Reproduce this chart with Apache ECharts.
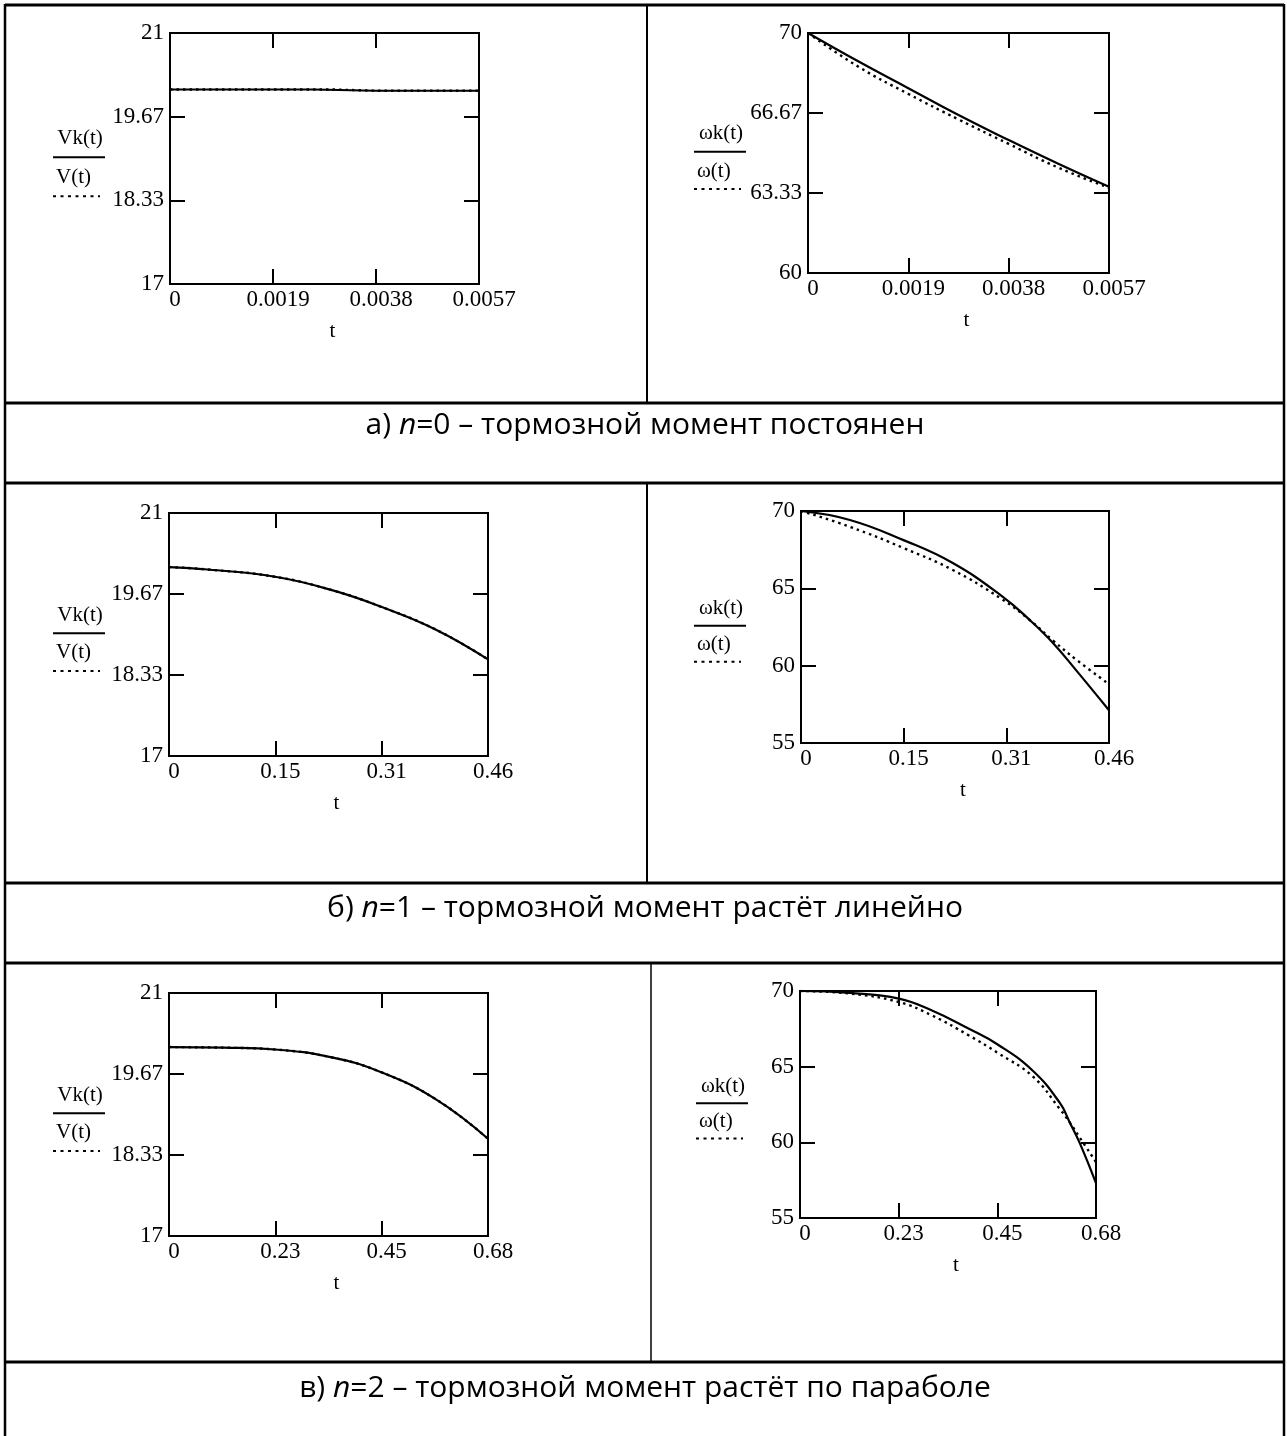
<!DOCTYPE html>
<html>
<head>
<meta charset="utf-8">
<script src="https://cdn.jsdelivr.net/npm/echarts@6/dist/echarts.min.js"></script>
<style>
html, body { margin: 0; padding: 0; background: #fff; }
#main { width: 1287px; height: 1436px; }
</style>
</head>
<body>
<div id="main"></div>
<script>
"use strict";

// а) n=0
const t_vk0 = [0, 0.0019, 0.00265, 0.00266, 0.0038, 0.0057];
const vk_0  = [20.1, 20.1, 20.1, 20.08, 20.08, 20.08];
const t_v0  = [0, 0.0019, 0.0030, 0.00301, 0.0038, 0.0057];
const v_0   = [20.1, 20.1, 20.1, 20.08, 20.08, 20.08];
const t_w0  = [0, 0.00095, 0.0019, 0.00285, 0.0038, 0.00475, 0.0057];
const wk_0  = [70, 68.82, 67.70, 66.58, 65.54, 64.54, 63.59];
const w_0   = [70, 68.60, 67.46, 66.40, 65.38, 64.38, 63.55];

// б) n=1
const t_v1  = [0, 0.056, 0.153, 0.235, 0.305, 0.385, 0.46];
const vk_1  = [20.11, 20.07, 19.95, 19.73, 19.46, 19.08, 18.59];
const v_1   = [20.11, 20.07, 19.95, 19.73, 19.46, 19.08, 18.59];
const t_w1  = [0, 0.073, 0.154, 0.226, 0.30, 0.342, 0.377, 0.412, 0.46];
const wk_1  = [70, 69.42, 68.1, 66.65, 64.5, 62.94, 61.44, 59.65, 57.12];
const w_1   = [70, 68.98, 67.59, 66.2, 64.3, 62.94, 61.6, 60.36, 58.8];

// в) n=2
const t_v2  = [0, 0.117, 0.226, 0.347, 0.451, 0.569, 0.68];
const vk_2  = [20.11, 20.10, 20.07, 19.94, 19.70, 19.25, 18.60];
const v_2   = [20.11, 20.10, 20.07, 19.94, 19.70, 19.25, 18.60];
const t_w2  = [0, 0.114, 0.227, 0.302, 0.387, 0.455, 0.536, 0.597, 0.62, 0.643, 0.68];
const wk_2  = [70, 69.87, 69.50, 68.73, 67.52, 66.45, 64.7, 62.6, 61.3, 59.93, 57.3];
const w_2   = [70, 69.83, 69.27, 68.40, 67.08, 65.9, 64.32, 62.2, 61.3, 60.3, 58.7];

// tick labels
const x_ticks0 = ['0', '0.0019', '0.0038', '0.0057'];
const x_ticks1 = ['0', '0.15', '0.31', '0.46'];
const x_ticks2 = ['0', '0.23', '0.45', '0.68'];
const v_ticks  = ['17', '18.33', '19.67', '21'];
const w_ticks0 = ['60', '63.33', '66.67', '70'];
const w_ticks  = ['55', '60', '65', '70'];

const captions = [
    ['а) ', 'n', '=0 – тормозной момент постоянен'],
    ['б) ', 'n', '=1 – тормозной момент растёт линейно'],
    ['в) ', 'n', '=2 – тормозной момент растёт по параболе']
];

const serif = 'Liberation Serif';

const panels = [
    { box: [170, 33, 309, 251], xt: x_ticks0, yt: v_ticks, names: ['Vk(t)', 'V(t)'], lx: 53,
      solid: [t_vk0, vk_0], dot: [t_v0, v_0], smooth: false },
    { box: [808, 33, 301, 240], xt: x_ticks0, yt: w_ticks0, names: ['ωk(t)', 'ω(t)'], lx: 694,
      solid: [t_w0, wk_0], dot: [t_w0, w_0], smooth: 0.45 },
    { box: [169, 513, 319, 243], xt: x_ticks1, yt: v_ticks, names: ['Vk(t)', 'V(t)'], lx: 53,
      solid: [t_v1, vk_1], dot: [t_v1, v_1], smooth: 0.45 },
    { box: [801, 511, 308, 232], xt: x_ticks1, yt: w_ticks, names: ['ωk(t)', 'ω(t)'], lx: 694,
      solid: [t_w1, wk_1], dot: [t_w1, w_1], smooth: 0.45 },
    { box: [169, 993, 319, 243], xt: x_ticks2, yt: v_ticks, names: ['Vk(t)', 'V(t)'], lx: 53,
      solid: [t_v2, vk_2], dot: [t_v2, v_2], smooth: 0.45 },
    { box: [800, 991, 296, 227], xt: x_ticks2, yt: w_ticks, names: ['ωk(t)', 'ω(t)'], lx: 696,
      solid: [t_w2, wk_2], dot: [t_w2, w_2], smooth: 0.45 }
];

const zip = (xs, ys) => xs.map((x, i) => [x, ys[i]]);
const thirds = (t) => {
    const a = Number(t[0]), b = Number(t[t.length - 1]);
    return [0, 1, 2, 3].map(i => a + (b - a) * i / 3);
};
const nearestLabel = (t, v) => {
    const pos = thirds(t);
    let best = 0;
    pos.forEach((p, i) => { if (Math.abs(p - v) < Math.abs(pos[best] - v)) best = i; });
    return t[best];
};

const grids = [], xAxes = [], yAxes = [], series = [], graphics = [];

panels.forEach((p, i) => {
    const [left, top, width, height] = p.box;
    grids.push({
        left, top, width, height,
        show: true, borderColor: '#000', borderWidth: 2, backgroundColor: 'transparent'
    });

    const xPos = thirds(p.xt), yPos = thirds(p.yt);
    const tickStyle = { show: true, inside: true, length: 15, customValues: xPos.slice(1, 3),
        lineStyle: { color: '#000', width: 2 } };
    const yTickStyle = Object.assign({}, tickStyle, { customValues: yPos.slice(1, 3) });

    const xBase = {
        type: 'value', gridIndex: i,
        min: xPos[0], max: xPos[3],
        axisLine: { show: false, onZero: false }, splitLine: { show: false }
    };
    xAxes.push(Object.assign({}, xBase, {
        position: 'bottom',
        axisTick: tickStyle,
        axisLabel: {
            customValues: xPos, margin: 4, color: '#000', fontFamily: serif, fontSize: 23,
            padding: [0, 0, 0, 10],
            formatter: v => nearestLabel(p.xt, v)
        },
        name: 't', nameLocation: 'middle', nameGap: 37,
        nameTextStyle: { color: '#000', fontFamily: serif, fontSize: 21, padding: [0, 0, 0, 16] }
    }));
    xAxes.push(Object.assign({}, xBase, {
        position: 'top', axisTick: tickStyle, axisLabel: { show: false }
    }));

    const yBase = {
        type: 'value', gridIndex: i,
        min: yPos[0], max: yPos[3],
        axisLine: { show: false, onZero: false }, splitLine: { show: false }
    };
    yAxes.push(Object.assign({}, yBase, {
        position: 'left',
        axisTick: yTickStyle,
        axisLabel: {
            customValues: yPos, margin: 6, color: '#000', fontFamily: serif, fontSize: 23,
            padding: [3, 0, 0, 0],
            formatter: v => nearestLabel(p.yt, v)
        }
    }));
    yAxes.push(Object.assign({}, yBase, {
        position: 'right', axisTick: yTickStyle, axisLabel: { show: false }
    }));

    series.push({
        type: 'line', xAxisIndex: 2 * i, yAxisIndex: 2 * i,
        data: zip(p.dot[0], p.dot[1]), showSymbol: false, symbol: 'none',
        smooth: p.smooth,
        lineStyle: { color: '#000', width: 2.4, type: [2.5, 4] }, silent: true
    });
    series.push({
        type: 'line', xAxisIndex: 2 * i, yAxisIndex: 2 * i,
        data: zip(p.solid[0], p.solid[1]), showSymbol: false, symbol: 'none',
        smooth: p.smooth,
        lineStyle: { color: '#000', width: 2.2 }, silent: true
    });

    // Mathcad style trace legend on the left of each plot
    const x0 = p.lx, x1 = p.lx + 52;
    graphics.push(
        { type: 'text', x: (x0 + x1) / 2 + 1, y: top + height * 0.42,
          style: { text: p.names[0], fill: '#000', fontFamily: serif, fontSize: 21, align: 'center', verticalAlign: 'middle' } },
        { type: 'line', shape: { x1: x0, y1: top + height * 0.495, x2: x1, y2: top + height * 0.495 },
          style: { stroke: '#000', lineWidth: 2 } },
        { type: 'text', x: x0 + 3, y: top + height * 0.575,
          style: { text: p.names[1], fill: '#000', fontFamily: serif, fontSize: 21, align: 'left', verticalAlign: 'middle' } },
        { type: 'line', shape: { x1: x0, y1: top + height * 0.65, x2: x1 - 5, y2: top + height * 0.65 },
          style: { stroke: '#000', lineWidth: 2, lineDash: [3, 4.5] } }
    );
});

// table borders
const hline = (y, w) => ({ type: 'line', shape: { x1: 5, y1: y, x2: 1284, y2: y }, style: { stroke: '#000', lineWidth: w } });
const vline = (x, y1, y2, w) => ({ type: 'line', shape: { x1: x, y1: y1, x2: x, y2: y2 }, style: { stroke: '#000', lineWidth: w } });
graphics.push(
    hline(5, 3), hline(403, 3), hline(483, 3), hline(883, 3), hline(963, 3), hline(1362, 3),
    vline(5, 4, 1436, 2.5), vline(1284, 4, 1436, 2.5),
    vline(647, 5, 403, 2), vline(647, 483, 883, 2), vline(651, 963, 1362, 1.5)
);

const captionY = [425, 908, 1388];
captions.forEach((c, i) => {
    graphics.push({
        type: 'text', x: 645, y: captionY[i],
        style: {
            text: c[0] + '{i|' + c[1] + '}' + c[2],
            fill: '#000', fontFamily: 'Open Sans', fontSize: 30,
            align: 'center', verticalAlign: 'middle',
            rich: { i: { fontStyle: 'italic', fontFamily: 'Open Sans', fontSize: 30, fill: '#000' } }
        }
    });
});

const chart = echarts.init(document.getElementById('main'), null, { renderer: 'canvas' });
const option = {
    animation: false,
    backgroundColor: '#fff',
    grid: grids,
    xAxis: xAxes,
    yAxis: yAxes,
    series: series,
    graphic: graphics
};
option && chart.setOption(option);
</script>
</body>
</html>
